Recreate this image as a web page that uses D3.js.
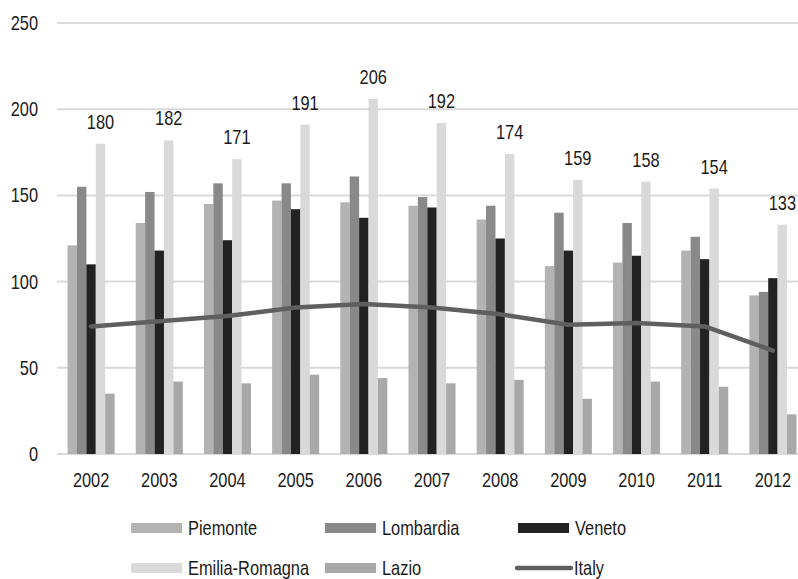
<!DOCTYPE html>
<html>
<head>
<meta charset="utf-8">
<script src="https://cdn.jsdelivr.net/npm/d3@7"></script>
<style>
  html, body { margin: 0; padding: 0; background: #ffffff; }
  svg { display: block; }
  text { font-family: "Liberation Sans", Arial, sans-serif; fill: #1a1a1a; }
</style>
</head>
<body>
<svg id="chart" width="798" height="579"></svg>
<script>
// Years on the category axis
const years = ["2002", "2003", "2004", "2005", "2006", "2007", "2008", "2009", "2010", "2011", "2012"];

// Regional series (bars)
const piemonte      = [121, 134, 145, 147, 146, 144, 136, 109, 111, 118, 92];
const lombardia     = [155, 152, 157, 157, 161, 149, 144, 140, 134, 126, 94];
const veneto        = [110, 118, 124, 142, 137, 143, 125, 118, 115, 113, 102];
const emiliaRomagna = [180, 182, 171, 191, 206, 192, 174, 159, 158, 154, 133];
const lazio         = [35, 42, 41, 46, 44, 41, 43, 32, 42, 39, 23];

// National series (line)
const italy = [74, 77, 80, 85, 87, 85, 81, 75, 76, 74, 60];

// Value-axis ticks
const yTicks = [0, 50, 100, 150, 200, 250];

const barSeries = [
  { name: "Piemonte", values: piemonte, color: "#b3b3b3" },
  { name: "Lombardia", values: lombardia, color: "#898989" },
  { name: "Veneto", values: veneto, color: "#222222" },
  { name: "Emilia-Romagna", values: emiliaRomagna, color: "#d9d9d9" },
  { name: "Lazio", values: lazio, color: "#a8a8a8" }
];
const lineColor = "#5f5f5f";

// Narrow face: regular sans squeezed horizontally
const NARROW = 0.82;
const FONT_SIZE = 20;

const svg = d3.select("#chart");

function label(parent, x, yPos, str, anchor, dy) {
  return parent.append("text")
    .attr("transform", `translate(${x},${yPos}) scale(${NARROW},1)`)
    .attr("text-anchor", anchor)
    .attr("dy", dy || 0)
    .attr("font-size", FONT_SIZE)
    .text(str);
}

const x0 = d3.scaleBand()
  .domain(years)
  .range([57, 807])
  .paddingInner(0.31)
  .paddingOuter(0.155);

const x1 = d3.scaleBand()
  .domain(barSeries.map(s => s.name))
  .range([0, x0.bandwidth()])
  .padding(0);

const y = d3.scaleLinear().domain([0, 250]).range([454, 23]);

// Horizontal gridlines
svg.append("g")
  .selectAll("line")
  .data(yTicks)
  .join("line")
  .attr("x1", 57)
  .attr("x2", 807)
  .attr("y1", d => y(d))
  .attr("y2", d => y(d))
  .attr("stroke", "#d9d9d9")
  .attr("stroke-width", 2);

// Value-axis labels
const yLabels = svg.append("g");
yTicks.forEach(t => label(yLabels, 38, y(t), t, "end", "0.35em"));

// Grouped bars
const groups = svg.append("g")
  .selectAll("g")
  .data(years)
  .join("g")
  .attr("transform", d => `translate(${x0(d)},0)`);

groups.selectAll("rect")
  .data((yr, i) => barSeries.map(s => ({ name: s.name, color: s.color, value: s.values[i] })))
  .join("rect")
  .attr("x", d => x1(d.name))
  .attr("width", x1.bandwidth())
  .attr("y", d => y(d.value))
  .attr("height", d => y(0) - y(d.value))
  .attr("fill", d => d.color);

// Emilia-Romagna value labels
const valueLabels = svg.append("g");
years.forEach((yr, i) => {
  label(valueLabels,
    x0(yr) + x1("Emilia-Romagna") + x1.bandwidth() / 2,
    y(emiliaRomagna[i]) - 15,
    emiliaRomagna[i], "middle");
});

// Category-axis labels
const xLabels = svg.append("g");
years.forEach(yr => label(xLabels, x0(yr) + x0.bandwidth() / 2, 487, yr, "middle"));

// Italy line
const line = d3.line()
  .x((d, i) => x0(years[i]) + x0.bandwidth() / 2)
  .y(d => y(d));

svg.append("path")
  .datum(italy)
  .attr("d", line)
  .attr("fill", "none")
  .attr("stroke", lineColor)
  .attr("stroke-width", 4.5)
  .attr("stroke-linejoin", "round")
  .attr("stroke-linecap", "round");

// Legend
const legendItems = [
  { name: "Piemonte", color: "#b3b3b3", type: "bar", col: 0, row: 0 },
  { name: "Lombardia", color: "#898989", type: "bar", col: 1, row: 0 },
  { name: "Veneto", color: "#222222", type: "bar", col: 2, row: 0 },
  { name: "Emilia-Romagna", color: "#d9d9d9", type: "bar", col: 0, row: 1 },
  { name: "Lazio", color: "#a8a8a8", type: "bar", col: 1, row: 1 },
  { name: "Italy", color: lineColor, type: "line", col: 2, row: 1 }
];
const colX = [131, 325, 518];
const rowY = [528, 568];

const legend = svg.append("g");
legendItems.forEach(it => {
  const lx = colX[it.col];
  const ly = rowY[it.row];
  if (it.type === "bar") {
    legend.append("rect")
      .attr("x", lx).attr("y", ly - 5)
      .attr("width", 51).attr("height", 10)
      .attr("fill", it.color);
  } else {
    legend.append("line")
      .attr("x1", lx - 1).attr("x2", lx + 53)
      .attr("y1", ly).attr("y2", ly)
      .attr("stroke", it.color)
      .attr("stroke-width", 4.5)
      .attr("stroke-linecap", "round");
  }
  label(legend, lx + (it.type === "bar" ? 57 : 56), ly, it.name, "start", "0.35em");
});
</script>
</body>
</html>
